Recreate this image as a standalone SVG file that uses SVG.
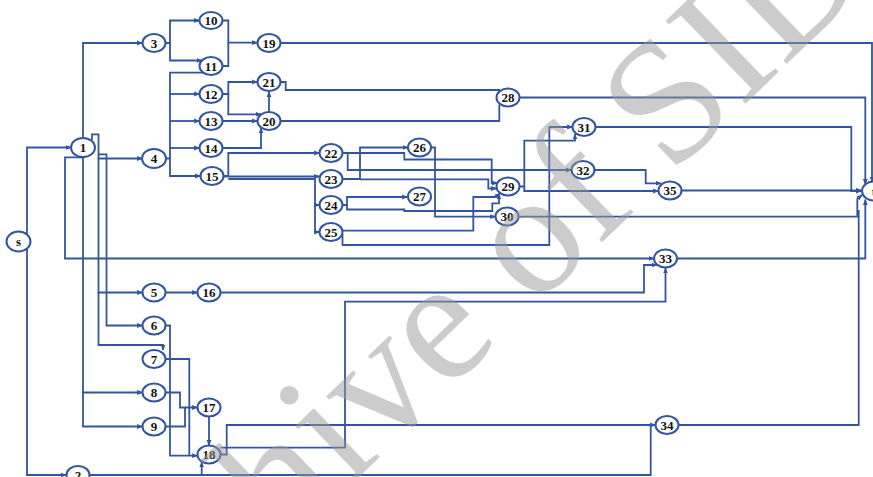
<svg xmlns="http://www.w3.org/2000/svg" width="873" height="477" viewBox="0 0 873 477">
<style>
.n ellipse{fill:#fff;stroke:#33559f;stroke-width:2}
.n text{font-family:"Liberation Serif",serif;font-weight:bold;font-size:13px;text-anchor:middle;fill:#111}
#edges path{fill:none;stroke:#33559f;stroke-width:1.8;stroke-linejoin:miter}
.wm{font-family:"Liberation Serif",serif;font-size:176px;fill:#9a9a9a;opacity:0.5}
</style>
<defs>
<marker id="a" viewBox="0 0 10 10" refX="9" refY="5" markerWidth="6" markerHeight="6" markerUnits="userSpaceOnUse" orient="auto"><path d="M0,1 L10,5 L0,9z" fill="#33559f"/></marker>
</defs>
<rect width="873" height="477" fill="#fff"/>
<g id="edges">
<path d="M27,234 V147.5 H71" marker-end="url(#a)"/>
<path d="M27,249 V475 H66" marker-end="url(#a)"/>
<path d="M83,138 V43 H142.5" marker-end="url(#a)"/>
<path d="M92,140 V134.3 H98.5 V158.5 H142.5" marker-end="url(#a)"/>
<path d="M98.5,158 V292.5 H142.5" marker-end="url(#a)"/>
<path d="M98.5,154.3 H106.5 V325.5 H142.5" marker-end="url(#a)"/>
<path d="M98.5,292 V345 H163 V350" marker-end="url(#a)"/>
<path d="M83,157 V392.5 H142.5" marker-end="url(#a)"/>
<path d="M83,392 V426.5 H142.5" marker-end="url(#a)"/>
<path d="M83,157.3 H65 V258.5 H654" marker-end="url(#a)"/>
<path d="M165.5,43 H170 V20.5 H199.5" marker-end="url(#a)"/>
<path d="M170,43 V60.5 H202" marker-end="url(#a)"/>
<path d="M165.5,158.5 H170 V72.7 H203.5"/>
<path d="M170,94 H199.5" marker-end="url(#a)"/>
<path d="M170,121 H199.5" marker-end="url(#a)"/>
<path d="M170,148 H199.5" marker-end="url(#a)"/>
<path d="M170,158 V176 H200.5" marker-end="url(#a)"/>
<path d="M222.5,20.5 H228.3 V42.7 H257.5" marker-end="url(#a)"/>
<path d="M222.5,66 H228.3 V42.7"/>
<path d="M222.5,94 H228.3 V82 H257.5" marker-end="url(#a)"/>
<path d="M228.3,94 V114.3 H261" marker-end="url(#a)"/>
<path d="M222.5,121 H257.5" marker-end="url(#a)"/>
<path d="M222.5,148 H261 V128" marker-end="url(#a)"/>
<path d="M269,112 V91.5" marker-end="url(#a)"/>
<path d="M280.5,82 H285.7 V90 H500"/>
<path d="M280.5,121 H499.3 V104.5"/>
<path d="M280.5,43 H872 V182" marker-end="url(#a)"/>
<path d="M519.5,97.5 H865.3 V184.5" marker-end="url(#a)"/>
<path d="M223.5,176 H228.3 V153 H319.5" marker-end="url(#a)"/>
<path d="M223.5,176.5 H319.5" marker-end="url(#a)"/>
<path d="M228.3,179 H315 V205 H319.5" marker-end="url(#a)"/>
<path d="M315,205 V232 H319.5" marker-end="url(#a)"/>
<path d="M342.5,153 H347.7 V170 H571.5" marker-end="url(#a)"/>
<path d="M347.7,153 H404.3 V159.5 H491.7 V183 H497.5" marker-end="url(#a)"/>
<path d="M342.5,179 H360 V147.5 H408" marker-end="url(#a)"/>
<path d="M360,179.3 H488.3 V188.5 H496.5" marker-end="url(#a)"/>
<path d="M342.5,205 H347 V197 H407.5" marker-end="url(#a)"/>
<path d="M347,205 V209.5 H404.3 V211 H492.3 V203.3 H499 V194" marker-end="url(#a)"/>
<path d="M342.5,230.7 H473.3 V197 H495 L500,193.5" marker-end="url(#a)"/>
<path d="M342.5,234 V245 H549.3 V127 H572.5" marker-end="url(#a)"/>
<path d="M431,147.5 H435 V216.7 H495.5" marker-end="url(#a)"/>
<path d="M519.5,186.5 H524.3 V140.7 H575 V134" marker-end="url(#a)"/>
<path d="M524.3,186.5 V191 H658.5" marker-end="url(#a)"/>
<path d="M594.5,170 H645.7 V183.3 H661" marker-end="url(#a)"/>
<path d="M595.5,127 H851.3 V191 H861.5" marker-end="url(#a)"/>
<path d="M682,190.5 H861.5" marker-end="url(#a)"/>
<path d="M518.5,216.7 H857.3 V199 L862,195" marker-end="url(#a)"/>
<path d="M677,258.5 H865.3 V199.5" marker-end="url(#a)"/>
<path d="M678.5,425 H858.7 V210"/>
<path d="M165.5,292.5 H197.5" marker-end="url(#a)"/>
<path d="M220.5,292.5 H644 V265 H657" marker-end="url(#a)"/>
<path d="M220.5,447.7 H345 V301.7 H665.5 V268" marker-end="url(#a)"/>
<path d="M220.5,454.5 H226.7 V425 H655.5" marker-end="url(#a)"/>
<path d="M90,475 H201.7 V462" marker-end="url(#a)"/>
<path d="M201.7,475 H650.7 V425"/>
<path d="M165.5,325.5 H170 V455.7 H197.5" marker-end="url(#a)"/>
<path d="M165.5,359 H189.3 V455.7"/>
<path d="M165.5,392.5 H180 V407.5 H197.5" marker-end="url(#a)"/>
<path d="M165.5,426.5 H185 V407.5"/>
<path d="M209,416.5 V445.5" marker-end="url(#a)"/>
</g>
<g id="node-s" class="n"><ellipse cx="18.5" cy="241.5" rx="12" ry="10"/><text x="18.5" y="245.5">s</text></g>
<g id="node-1" class="n"><ellipse cx="83" cy="147.5" rx="12" ry="9.5"/><text x="83" y="152">1</text></g>
<g id="node-2" class="n"><ellipse cx="78" cy="475" rx="11.5" ry="9"/><text x="78" y="479.5">2</text></g>
<g id="node-3" class="n"><ellipse cx="154" cy="43" rx="11.5" ry="9"/><text x="154" y="47.5">3</text></g>
<g id="node-4" class="n"><ellipse cx="154" cy="158.5" rx="12" ry="9.5"/><text x="154" y="163">4</text></g>
<g id="node-5" class="n"><ellipse cx="154" cy="292.5" rx="11.5" ry="9"/><text x="154" y="297">5</text></g>
<g id="node-6" class="n"><ellipse cx="154" cy="325.5" rx="11.5" ry="9"/><text x="154" y="330">6</text></g>
<g id="node-7" class="n"><ellipse cx="154" cy="359" rx="11.5" ry="9"/><text x="154" y="363.5">7</text></g>
<g id="node-8" class="n"><ellipse cx="154" cy="392.5" rx="11.5" ry="9"/><text x="154" y="397">8</text></g>
<g id="node-9" class="n"><ellipse cx="154" cy="426.5" rx="11.5" ry="9"/><text x="154" y="431">9</text></g>
<g id="node-10" class="n"><ellipse cx="211" cy="20.5" rx="11.5" ry="8.5"/><text x="211" y="25">10</text></g>
<g id="node-11" class="n"><ellipse cx="211" cy="66" rx="11.5" ry="9"/><text x="211" y="70.5">11</text></g>
<g id="node-12" class="n"><ellipse cx="211" cy="94" rx="11.5" ry="9"/><text x="211" y="98.5">12</text></g>
<g id="node-13" class="n"><ellipse cx="211" cy="121" rx="11.5" ry="9"/><text x="211" y="125.5">13</text></g>
<g id="node-14" class="n"><ellipse cx="211" cy="148" rx="11.5" ry="9"/><text x="211" y="152.5">14</text></g>
<g id="node-15" class="n"><ellipse cx="212" cy="176" rx="11.5" ry="9"/><text x="212" y="180.5">15</text></g>
<g id="node-16" class="n"><ellipse cx="209" cy="292.5" rx="11.5" ry="9"/><text x="209" y="297">16</text></g>
<g id="node-17" class="n"><ellipse cx="209" cy="407.5" rx="11.5" ry="9"/><text x="209" y="412">17</text></g>
<g id="node-18" class="n"><ellipse cx="209" cy="454.5" rx="11.5" ry="9"/><text x="209" y="459">18</text></g>
<g id="node-19" class="n"><ellipse cx="269" cy="43" rx="11.5" ry="9"/><text x="269" y="47.5">19</text></g>
<g id="node-20" class="n"><ellipse cx="269" cy="121" rx="11.5" ry="9"/><text x="269" y="125.5">20</text></g>
<g id="node-21" class="n"><ellipse cx="269" cy="82" rx="11.5" ry="9"/><text x="269" y="86.5">21</text></g>
<g id="node-22" class="n"><ellipse cx="331" cy="153" rx="11.5" ry="9"/><text x="331" y="157.5">22</text></g>
<g id="node-23" class="n"><ellipse cx="331" cy="179" rx="11.5" ry="9"/><text x="331" y="183.5">23</text></g>
<g id="node-24" class="n"><ellipse cx="331" cy="205" rx="11.5" ry="9"/><text x="331" y="209.5">24</text></g>
<g id="node-25" class="n"><ellipse cx="331" cy="232" rx="11.5" ry="9"/><text x="331" y="236.5">25</text></g>
<g id="node-26" class="n"><ellipse cx="419.5" cy="147.5" rx="11.5" ry="9"/><text x="419.5" y="152">26</text></g>
<g id="node-27" class="n"><ellipse cx="419.5" cy="196.5" rx="11.5" ry="9"/><text x="419.5" y="201">27</text></g>
<g id="node-28" class="n"><ellipse cx="508" cy="97.5" rx="11.5" ry="9"/><text x="508" y="102">28</text></g>
<g id="node-29" class="n"><ellipse cx="508" cy="186.5" rx="11.5" ry="9"/><text x="508" y="191">29</text></g>
<g id="node-30" class="n"><ellipse cx="507" cy="216.5" rx="11.5" ry="9"/><text x="507" y="221">30</text></g>
<g id="node-31" class="n"><ellipse cx="584" cy="127" rx="11.5" ry="9"/><text x="584" y="131.5">31</text></g>
<g id="node-32" class="n"><ellipse cx="583" cy="170" rx="11.5" ry="9"/><text x="583" y="174.5">32</text></g>
<g id="node-33" class="n"><ellipse cx="665.5" cy="258.5" rx="11.5" ry="9"/><text x="665.5" y="263">33</text></g>
<g id="node-34" class="n"><ellipse cx="667" cy="425" rx="11.5" ry="9"/><text x="667" y="429.5">34</text></g>
<g id="node-35" class="n"><ellipse cx="670" cy="190.5" rx="11.5" ry="9"/><text x="670" y="195">35</text></g>
<g id="node-t" class="n"><ellipse cx="874" cy="191" rx="12" ry="9.5"/><text x="874" y="195.5">t</text></g>
<text class="wm" transform="translate(94,733) rotate(-44)">Archive of SID</text>
</svg>
